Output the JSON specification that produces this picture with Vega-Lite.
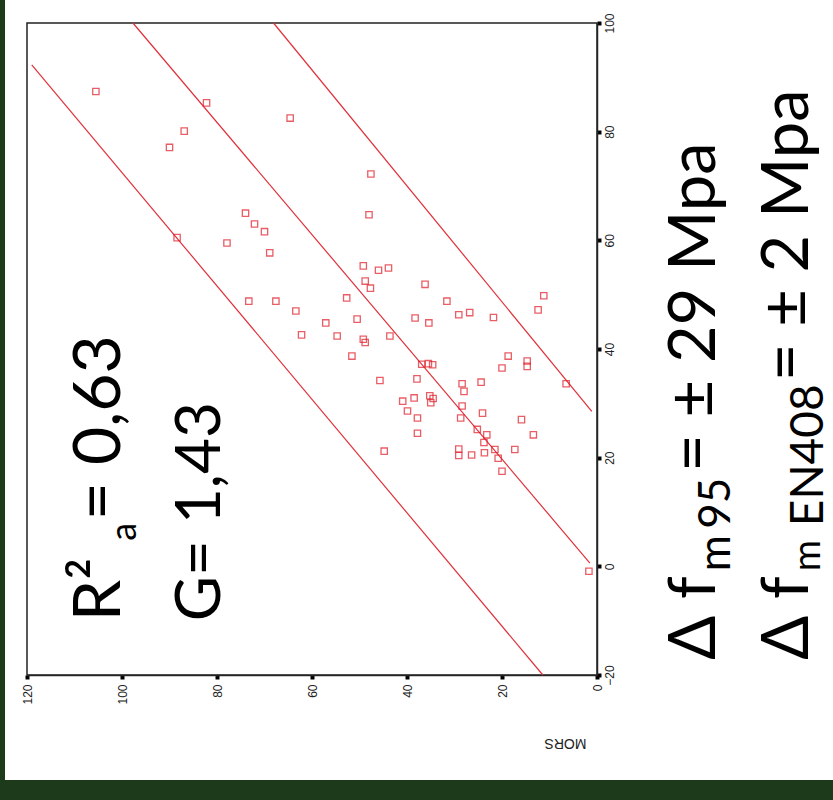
{
  "$schema": "https://vega.github.io/schema/vega-lite/v6.json",
  "width": 828,
  "height": 780,
  "autosize": {"type": "none"},
  "padding": {"left": 5, "top": 0, "right": 0, "bottom": 20},
  "background": "#1d3b1b",
  "config": {
    "view": {"fill": "white", "stroke": null},
    "font": "Liberation Sans"
  },
  "data": {"values": [{}]},
  "datasets": {
    "points": [
      {"mors": 105.5, "pred": 87.4}, {"mors": 82.2, "pred": 85.3}, {"mors": 64.6, "pred": 82.5},
      {"mors": 86.9, "pred": 80.1}, {"mors": 90.0, "pred": 77.1}, {"mors": 74.0, "pred": 65.0},
      {"mors": 72.1, "pred": 63.0}, {"mors": 70.0, "pred": 61.6}, {"mors": 68.9, "pred": 57.7},
      {"mors": 88.4, "pred": 60.5}, {"mors": 77.9, "pred": 59.5}, {"mors": 73.3, "pred": 48.8},
      {"mors": 67.6, "pred": 48.8}, {"mors": 63.4, "pred": 47.0}, {"mors": 62.2, "pred": 42.6},
      {"mors": 47.6, "pred": 72.2}, {"mors": 48.0, "pred": 64.7}, {"mors": 49.2, "pred": 55.3},
      {"mors": 46.0, "pred": 54.5}, {"mors": 43.9, "pred": 54.9}, {"mors": 48.8, "pred": 52.5},
      {"mors": 47.7, "pred": 51.2}, {"mors": 36.2, "pred": 51.9}, {"mors": 52.7, "pred": 49.4},
      {"mors": 31.6, "pred": 48.8}, {"mors": 29.1, "pred": 46.3}, {"mors": 26.8, "pred": 46.7},
      {"mors": 21.8, "pred": 45.8}, {"mors": 11.2, "pred": 49.8}, {"mors": 12.4, "pred": 47.2},
      {"mors": 38.3, "pred": 45.7}, {"mors": 35.4, "pred": 44.8}, {"mors": 50.5, "pred": 45.5},
      {"mors": 57.1, "pred": 44.8}, {"mors": 54.7, "pred": 42.4}, {"mors": 49.2, "pred": 41.8},
      {"mors": 48.8, "pred": 41.2}, {"mors": 43.6, "pred": 42.4}, {"mors": 51.6, "pred": 38.7},
      {"mors": 36.9, "pred": 37.2}, {"mors": 35.5, "pred": 37.3}, {"mors": 34.6, "pred": 37.1},
      {"mors": 45.7, "pred": 34.2}, {"mors": 37.9, "pred": 34.5}, {"mors": 28.4, "pred": 33.6},
      {"mors": 28.0, "pred": 32.2}, {"mors": 24.4, "pred": 33.9}, {"mors": 18.7, "pred": 38.7},
      {"mors": 20.0, "pred": 36.5}, {"mors": 14.7, "pred": 37.8}, {"mors": 14.7, "pred": 36.8},
      {"mors": 6.5, "pred": 33.6}, {"mors": 40.9, "pred": 30.4}, {"mors": 38.5, "pred": 31.0},
      {"mors": 35.2, "pred": 31.4}, {"mors": 34.5, "pred": 30.9}, {"mors": 35.0, "pred": 30.1},
      {"mors": 28.4, "pred": 29.5}, {"mors": 24.1, "pred": 28.2}, {"mors": 39.9, "pred": 28.6},
      {"mors": 37.8, "pred": 27.3}, {"mors": 28.7, "pred": 27.3}, {"mors": 15.9, "pred": 27.0},
      {"mors": 37.8, "pred": 24.5}, {"mors": 25.2, "pred": 25.2}, {"mors": 23.2, "pred": 24.2},
      {"mors": 23.8, "pred": 22.8}, {"mors": 13.4, "pred": 24.2}, {"mors": 44.8, "pred": 21.2},
      {"mors": 29.1, "pred": 21.6}, {"mors": 29.1, "pred": 20.4}, {"mors": 26.4, "pred": 20.5},
      {"mors": 23.7, "pred": 20.9}, {"mors": 21.5, "pred": 21.5}, {"mors": 20.8, "pred": 19.9},
      {"mors": 17.3, "pred": 21.5}, {"mors": 20.0, "pred": 17.5}, {"mors": 1.7, "pred": -0.9}
    ],
    "lines": [
      {"line": "lower", "mors": 119.0, "pred": 92.3},
      {"line": "lower", "mors": 11.4, "pred": -20.0},
      {"line": "fit", "mors": 97.7, "pred": 100.0},
      {"line": "fit", "mors": 1.5, "pred": 0.6},
      {"line": "upper", "mors": 68.1, "pred": 100.0},
      {"line": "upper", "mors": 1.1, "pred": 28.5}
    ]
  },
  "layer": [
    {
      "mark": {"type": "rect", "fill": "transparent", "stroke": "#222222", "strokeWidth": 1.5},
      "encoding": {
        "x": {"datum": 120, "type": "quantitative", "scale": {"domain": [0, 120], "range": [592, 22], "zero": false, "nice": false},
          "axis": {
            "orient": "bottom", "offset": -105, "values": [0, 20, 40, 60, 80, 100, 120],
            "grid": false, "domainColor": "#333333", "domainWidth": 1.5,
            "tickColor": "#000000", "tickSize": 4, "tickWidth": 4,
            "labelAngle": 270, "labelAlign": "right", "labelBaseline": "middle", "labelPadding": 5,
            "labelFont": "Liberation Sans", "labelFontSize": 12, "labelColor": "#222222",
            "title": "MORS", "titleAngle": 180, "titleFont": "Liberation Sans", "titleFontSize": 14,
            "titleFontWeight": "normal", "titleColor": "#222222", "titleX": 560, "titleY": 67,
            "titleAlign": "center", "titleBaseline": "middle"
          }},
        "x2": {"datum": 0},
        "y": {"datum": -20, "type": "quantitative", "scale": {"domain": [-20, 100], "range": [675, 23], "zero": false, "nice": false},
          "axis": {
            "orient": "right", "offset": -236, "values": [-20, 0, 20, 40, 60, 80, 100],
            "grid": false, "domainColor": "#333333", "domainWidth": 1.5,
            "tickColor": "#000000", "tickSize": 4, "tickWidth": 4,
            "labelAngle": 270, "labelAlign": "center", "labelBaseline": "top", "labelPadding": 3,
            "labelFont": "Liberation Sans", "labelFontSize": 12, "labelColor": "#222222",
            "title": null
          }},
        "y2": {"datum": 100}
      }
    },
    {
      "data": {"name": "lines"},
      "mark": {"type": "line", "color": "#e0303a", "strokeWidth": 1.2},
      "encoding": {
        "x": {"field": "mors", "type": "quantitative"},
        "y": {"field": "pred", "type": "quantitative"},
        "detail": {"field": "line"}
      }
    },
    {
      "data": {"name": "points"},
      "mark": {"type": "point", "shape": "square", "filled": false, "color": "#e01b26", "size": 40, "strokeWidth": 1.3},
      "encoding": {
        "x": {"field": "mors", "type": "quantitative"},
        "y": {"field": "pred", "type": "quantitative"}
      }
    },
    {
      "mark": {"type": "text", "text": "R²", "angle": 270, "align": "left", "baseline": "alphabetic", "font": "Lato", "fontSize": 66, "color": "black"},
      "encoding": {"x": {"datum": 100.4}, "y": {"datum": -10.1}}
    },
    {
      "mark": {"type": "text", "text": "a", "angle": 270, "align": "left", "baseline": "alphabetic", "font": "Lato", "fontSize": 36, "color": "black"},
      "encoding": {"x": {"datum": 97.0}, "y": {"datum": 4.7}}
    },
    {
      "mark": {"type": "text", "text": "= 0,63", "angle": 270, "align": "left", "baseline": "alphabetic", "font": "Lato", "fontSize": 66, "color": "black"},
      "encoding": {"x": {"datum": 100.4}, "y": {"datum": 8.5}}
    },
    {
      "mark": {"type": "text", "text": "G= 1,43", "angle": 270, "align": "left", "baseline": "alphabetic", "font": "Lato", "fontSize": 62, "color": "black"},
      "encoding": {"x": {"datum": 79.4}, "y": {"datum": -10.1}}
    },
    {
      "mark": {"type": "text", "text": "Δ f", "angle": 270, "align": "left", "baseline": "alphabetic", "font": "Lato", "fontSize": 65, "color": "black"},
      "encoding": {"x": {"datum": -24.8}, "y": {"datum": -17.2}}
    },
    {
      "mark": {"type": "text", "text": "m", "angle": 270, "align": "left", "baseline": "alphabetic", "font": "Lato", "fontSize": 44, "color": "black"},
      "encoding": {"x": {"datum": -28.0}, "y": {"datum": -0.9}}
    },
    {
      "mark": {"type": "text", "text": "95", "angle": 270, "align": "left", "baseline": "alphabetic", "font": "Lato", "fontSize": 44, "color": "black"},
      "encoding": {"x": {"datum": -28.0}, "y": {"datum": 6.9}}
    },
    {
      "mark": {"type": "text", "text": "= ± 29 Mpa", "angle": 270, "align": "left", "baseline": "alphabetic", "font": "Lato", "fontSize": 65, "color": "black"},
      "encoding": {"x": {"datum": -24.8}, "y": {"datum": 17.4}}
    },
    {
      "mark": {"type": "text", "text": "Δ f", "angle": 270, "align": "left", "baseline": "alphabetic", "font": "Lato", "fontSize": 65, "color": "black"},
      "encoding": {"x": {"datum": -44.4}, "y": {"datum": -17.2}}
    },
    {
      "mark": {"type": "text", "text": "m", "angle": 270, "align": "left", "baseline": "alphabetic", "font": "Lato", "fontSize": 38, "color": "black"},
      "encoding": {"x": {"datum": -46.9}, "y": {"datum": -0.9}}
    },
    {
      "mark": {"type": "text", "text": "EN408", "angle": 270, "align": "left", "baseline": "alphabetic", "font": "Lato", "fontSize": 46, "color": "black"},
      "encoding": {"x": {"datum": -47.6}, "y": {"datum": 7.4}}
    },
    {
      "mark": {"type": "text", "text": "= ± 2 Mpa", "angle": 270, "align": "left", "baseline": "alphabetic", "font": "Lato", "fontSize": 65, "color": "black"},
      "encoding": {"x": {"datum": -44.4}, "y": {"datum": 34.1}}
    }
  ]
}
